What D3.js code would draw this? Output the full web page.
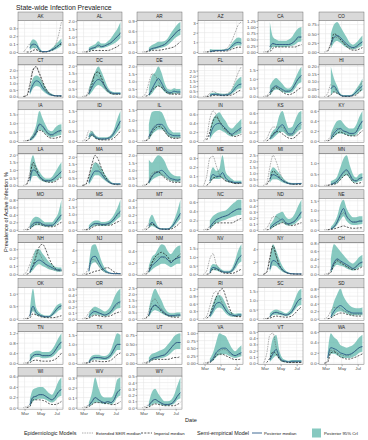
<!DOCTYPE html>
<html><head><meta charset="utf-8">
<script src="https://cdn.jsdelivr.net/npm/d3@7"></script>
<style>body{margin:0;background:#fff} svg text{font-family:"Liberation Sans",Arial,Helvetica,sans-serif}</style>
</head><body><svg id="c" width="368" height="440"></svg>
<script>
const states = ["AK","AL","AR","AZ","CA","CO","CT","DC","DE","FL","GA","HI","IA","ID","IL","IN","KS","KY","LA","MA","MD","ME","MI","MN","MO","MS","MT","NC","ND","NE","NH","NJ","NM","NV","NY","OH","OK","OR","PA","RI","SC","SD","TN","TX","UT","VA","VT","WA","WI","WV","WY"];
const dates = ["2020-02-26","2020-03-09","2020-03-21","2020-04-02","2020-04-14","2020-04-26","2020-05-08","2020-05-20","2020-06-01","2020-06-13","2020-06-25","2020-07-07","2020-07-19"];
const xTickDates = ["2020-03-01","2020-05-01","2020-07-01"];
const xTickLabels = ["Mar","May","Jul"];
const yTickLabels = [
["0.0","0.1","0.2","0.3"],["0.0","0.5","1.0","1.5","2.0"],["0.0","0.3","0.6","0.9"],["0","1","2","3"],["0.00","0.25","0.50","0.75","1.00","1.25"],["0.00","0.25","0.50","0.75"],
["0.0","0.5","1.0","1.5","2.0"],["0.0","0.5","1.0","1.5","2.0"],["0.0","0.5","1.0","1.5","2.0"],["0.0","0.5","1.0","1.5","2.0","2.5"],["0.0","0.5","1.0","1.5"],["0.00","0.05","0.10","0.15","0.20"],
["0.0","0.5","1.0","1.5"],["0.0","0.5","1.0","1.5"],["0.0","0.5","1.0","1.5"],["0.0","0.2","0.4","0.6"],["0.0","0.2","0.4","0.6"],["0.0","0.2","0.4","0.6"],
["0.0","0.5","1.0","1.5","2.0"],["0.0","0.5","1.0","1.5","2.0"],["0.0","0.5","1.0","1.5","2.0"],["0.0","0.1","0.2","0.3"],["0.0","0.5","1.0","1.5","2.0","2.5"],["0.0","0.5","1.0"],
["0.0","0.2","0.4","0.6","0.8"],["0.0","0.5","1.0","1.5","2.0"],["0.0","0.1","0.2","0.3","0.4"],["0.0","0.2","0.4","0.6"],["0.0","0.1","0.2","0.3","0.4","0.5"],["0.0","0.5","1.0","1.5"],
["0.0","0.1","0.2","0.3"],["0","2","4"],["0.0","0.2","0.4"],["0.0","0.5","1.0","1.5"],["0","2","4"],["0.0","0.2","0.4","0.6","0.8"],
["0.0","0.5","1.0"],["0.0","0.1","0.2","0.3","0.4","0.5"],["0.0","0.5","1.0","1.5","2.0","2.5"],["0.0","0.3","0.6","0.9","1.2"],["0.0","0.5","1.0","1.5"],["0.0","0.2","0.4","0.6","0.8"],
["0.0","0.4","0.8","1.2"],["0.0","0.5","1.0","1.5"],["0.00","0.25","0.50","0.75"],["0.00","0.25","0.50","0.75","1.00"],["0.0","0.1","0.2","0.3","0.4","0.5"],["0.0","0.2","0.4","0.6"],
["0.0","0.2","0.4","0.6"],["0.0","0.1","0.2","0.3"],["0.0","0.1","0.2","0.3","0.4","0.5"]
];
const median = [
[null,null,0.05,0.1,0.09,0.03,0.005,0.005,0.01,0.03,0.05,0.08,0.12],
[null,null,0.15,0.25,0.3,0.45,0.35,0.4,0.5,0.6,0.8,1.0,1.2],
[null,null,0.05,0.1,0.12,0.15,0.18,0.22,0.3,0.4,0.5,0.6,0.65],
[null,null,0.05,0.1,0.15,0.15,0.15,0.2,0.3,0.6,0.9,1.0,0.9],
[null,null,0.2,0.35,0.3,0.3,0.3,0.3,0.3,0.35,0.45,0.6,0.6],
[null,null,0.2,0.4,0.45,0.4,0.3,0.22,0.15,0.12,0.15,0.22,0.28],
[null,null,0.3,0.9,1.2,1.1,0.7,0.4,0.2,0.1,0.05,0.05,0.05],
[null,null,0.2,0.6,0.95,1.1,1.0,0.7,0.4,0.25,0.2,0.2,0.2],
[null,null,0.1,0.5,0.9,1.2,0.9,0.5,0.3,0.25,0.35,0.3,0.3],
[null,null,0.1,0.2,0.2,0.15,0.12,0.15,0.2,0.4,0.8,1.1,1.2],
[null,null,0.2,0.5,0.6,0.5,0.4,0.3,0.3,0.4,0.7,1.0,1.2],
[null,null,0.05,0.07,0.04,0.01,0.003,0.003,0.003,0.01,0.03,0.05,0.07],
[null,null,0.05,0.2,0.5,0.95,0.85,0.6,0.4,0.35,0.45,0.55,0.6],
[null,null,0.2,0.35,0.2,0.12,0.1,0.1,0.12,0.2,0.4,0.7,1.0],
[null,null,0.2,0.5,0.7,0.8,0.8,0.65,0.4,0.3,0.25,0.25,0.25],
[null,null,0.1,0.3,0.38,0.4,0.35,0.28,0.2,0.15,0.2,0.25,0.3],
[null,null,0.05,0.12,0.2,0.3,0.35,0.25,0.15,0.15,0.25,0.35,0.4],
[null,null,0.05,0.15,0.22,0.25,0.2,0.18,0.15,0.15,0.18,0.3,0.4],
[null,null,0.3,1.0,0.9,0.6,0.4,0.3,0.3,0.35,0.5,0.7,0.9],
[null,null,0.2,0.7,1.0,1.0,0.8,0.5,0.3,0.15,0.1,0.1,0.1],
[null,null,0.2,0.6,0.8,0.9,1.0,0.85,0.6,0.45,0.4,0.35,0.4],
[null,null,0.05,0.12,0.1,0.1,0.14,0.08,0.05,0.04,0.03,0.03,0.03],
[null,null,0.5,0.9,0.8,0.6,0.4,0.25,0.15,0.12,0.12,0.15,0.15],
[null,null,0.05,0.1,0.2,0.4,0.6,0.7,0.5,0.25,0.2,0.3,0.35],
[null,null,0.05,0.15,0.2,0.2,0.15,0.12,0.12,0.12,0.18,0.3,0.4],
[null,null,0.1,0.3,0.4,0.4,0.35,0.35,0.4,0.5,0.7,1.0,1.2],
[null,null,0.05,0.1,0.06,0.02,0.01,0.01,0.01,0.03,0.08,0.15,0.22],
[null,null,0.05,0.15,0.22,0.25,0.28,0.3,0.33,0.38,0.42,0.45,0.45],
[null,null,0.03,0.08,0.12,0.15,0.18,0.12,0.1,0.12,0.15,0.22,0.3],
[null,null,0.05,0.15,0.4,0.8,1.1,0.7,0.5,0.4,0.4,0.45,0.45],
[null,null,0.03,0.1,0.15,0.17,0.15,0.12,0.1,0.08,0.06,0.05,0.05],
[null,null,0.5,2.8,3.0,2.2,1.2,0.6,0.3,0.15,0.1,0.1,0.1],
[null,null,0.05,0.15,0.2,0.25,0.3,0.3,0.25,0.2,0.25,0.28,0.3],
[null,null,0.1,0.4,0.35,0.25,0.15,0.12,0.12,0.2,0.5,0.9,1.1],
[null,null,0.8,2.2,2.0,1.3,0.7,0.35,0.15,0.08,0.05,0.05,0.05],
[null,null,0.1,0.3,0.4,0.35,0.3,0.25,0.2,0.15,0.2,0.28,0.32],
[null,null,0.1,0.5,0.25,0.15,0.1,0.08,0.08,0.15,0.3,0.45,0.52],
[null,null,0.03,0.1,0.12,0.1,0.08,0.06,0.08,0.12,0.2,0.26,0.28],
[null,null,0.3,0.9,1.1,0.95,0.7,0.45,0.3,0.25,0.25,0.3,0.3],
[null,null,0.1,0.35,0.6,0.65,0.55,0.35,0.2,0.15,0.12,0.15,0.15],
[null,null,0.1,0.3,0.35,0.3,0.25,0.2,0.25,0.4,0.7,1.0,1.1],
[null,null,0.05,0.2,0.3,0.35,0.3,0.22,0.18,0.15,0.15,0.15,0.15],
[null,null,0.1,0.3,0.35,0.35,0.3,0.3,0.3,0.35,0.5,0.7,0.85],
[null,null,0.05,0.25,0.3,0.3,0.28,0.25,0.3,0.45,0.75,1.0,1.0],
[null,null,0.05,0.12,0.15,0.17,0.2,0.22,0.3,0.4,0.5,0.55,0.55],
[null,null,0.05,0.15,0.35,0.45,0.5,0.5,0.4,0.3,0.25,0.3,0.35],
[null,null,0.05,0.15,0.22,0.1,0.04,0.03,0.02,0.03,0.03,0.03,0.03],
[null,0.1,0.3,0.28,0.25,0.2,0.18,0.16,0.17,0.2,0.25,0.3,0.32],
[null,null,0.05,0.2,0.22,0.25,0.25,0.22,0.18,0.15,0.2,0.3,0.35],
[null,null,0.02,0.06,0.1,0.08,0.06,0.05,0.06,0.05,0.08,0.15,0.18],
[null,null,0.03,0.1,0.13,0.1,0.07,0.05,0.05,0.06,0.1,0.18,0.24]
];
const lower = [
[null,null,0.02,0.05,0.05,0.01,0,0,0.005,0.015,0.03,0.05,0.08],
[null,null,0.05,0.15,0.2,0.3,0.25,0.3,0.35,0.45,0.55,0.7,0.9],
[null,null,0.02,0.06,0.08,0.1,0.12,0.15,0.2,0.28,0.38,0.45,0.5],
[null,null,0.02,0.05,0.1,0.1,0.1,0.15,0.2,0.4,0.6,0.7,0.65],
[null,null,0.05,0.2,0.2,0.2,0.2,0.2,0.22,0.25,0.3,0.4,0.42],
[null,null,0.08,0.25,0.3,0.25,0.18,0.12,0.08,0.07,0.09,0.13,0.18],
[null,null,0.1,0.6,0.8,0.75,0.45,0.25,0.1,0.05,0.02,0.02,0.02],
[null,null,0.05,0.3,0.6,0.75,0.65,0.45,0.25,0.15,0.12,0.12,0.12],
[null,null,0.02,0.2,0.5,0.7,0.55,0.3,0.18,0.15,0.2,0.2,0.18],
[null,null,0.03,0.12,0.12,0.1,0.08,0.1,0.12,0.25,0.5,0.75,0.8],
[null,null,0.05,0.3,0.4,0.35,0.25,0.2,0.2,0.25,0.45,0.7,0.8],
[null,null,0.01,0.03,0.02,0.005,0,0,0,0.005,0.015,0.03,0.04],
[null,null,0.02,0.1,0.3,0.65,0.55,0.4,0.25,0.2,0.25,0.3,0.35],
[null,null,0.08,0.25,0.12,0.07,0.06,0.06,0.08,0.12,0.25,0.45,0.65],
[null,null,0.05,0.3,0.45,0.55,0.55,0.45,0.25,0.18,0.15,0.15,0.15],
[null,null,0.03,0.15,0.22,0.25,0.22,0.18,0.12,0.1,0.12,0.15,0.18],
[null,null,0.02,0.06,0.12,0.18,0.2,0.15,0.1,0.1,0.15,0.22,0.25],
[null,null,0.02,0.08,0.14,0.15,0.14,0.12,0.1,0.1,0.12,0.2,0.25],
[null,null,0.1,0.6,0.6,0.4,0.28,0.2,0.2,0.22,0.3,0.45,0.55],
[null,null,0.05,0.4,0.7,0.7,0.55,0.35,0.2,0.1,0.06,0.06,0.06],
[null,null,0.05,0.35,0.5,0.6,0.65,0.55,0.4,0.3,0.25,0.22,0.25],
[null,null,0.02,0.07,0.07,0.07,0.08,0.05,0.03,0.025,0.02,0.02,0.02],
[null,null,0.2,0.5,0.5,0.4,0.25,0.15,0.1,0.08,0.08,0.1,0.1],
[null,null,0.02,0.05,0.1,0.25,0.4,0.45,0.3,0.15,0.12,0.18,0.22],
[null,null,0.02,0.08,0.12,0.12,0.1,0.08,0.08,0.08,0.12,0.2,0.28],
[null,null,0.03,0.2,0.28,0.28,0.25,0.25,0.28,0.35,0.5,0.7,0.85],
[null,null,0.02,0.05,0.03,0.01,0.005,0.005,0.005,0.015,0.05,0.1,0.15],
[null,null,0.02,0.08,0.14,0.17,0.2,0.22,0.25,0.28,0.3,0.32,0.32],
[null,null,0.01,0.04,0.07,0.1,0.12,0.08,0.07,0.08,0.1,0.15,0.2],
[null,null,0.02,0.08,0.25,0.5,0.7,0.45,0.3,0.25,0.25,0.28,0.3],
[null,null,0.01,0.05,0.1,0.12,0.1,0.08,0.06,0.05,0.04,0.03,0.03],
[null,null,0.2,1.8,2.0,1.4,0.7,0.35,0.15,0.08,0.05,0.05,0.05],
[null,null,0.02,0.08,0.12,0.15,0.18,0.18,0.15,0.12,0.15,0.18,0.18],
[null,null,0.03,0.25,0.22,0.15,0.1,0.08,0.08,0.12,0.3,0.6,0.75],
[null,null,0.3,1.4,1.3,0.8,0.4,0.2,0.08,0.04,0.03,0.03,0.03],
[null,null,0.03,0.18,0.25,0.22,0.2,0.15,0.12,0.1,0.12,0.18,0.2],
[null,null,0.03,0.3,0.15,0.1,0.06,0.05,0.05,0.1,0.2,0.32,0.38],
[null,null,0.01,0.05,0.07,0.06,0.05,0.04,0.05,0.08,0.13,0.17,0.18],
[null,null,0.1,0.55,0.7,0.6,0.45,0.3,0.2,0.15,0.15,0.18,0.18],
[null,null,0.03,0.2,0.4,0.45,0.38,0.22,0.12,0.08,0.08,0.1,0.1],
[null,null,0.03,0.2,0.22,0.2,0.17,0.14,0.17,0.28,0.5,0.7,0.75],
[null,null,0.02,0.1,0.18,0.2,0.18,0.14,0.1,0.09,0.09,0.09,0.09],
[null,null,0.03,0.2,0.25,0.25,0.2,0.2,0.22,0.25,0.35,0.5,0.6],
[null,null,0.02,0.15,0.2,0.2,0.18,0.17,0.2,0.3,0.5,0.7,0.7],
[null,null,0.02,0.08,0.1,0.12,0.14,0.16,0.2,0.27,0.35,0.38,0.38],
[null,null,0.02,0.08,0.2,0.28,0.3,0.3,0.25,0.2,0.17,0.2,0.23],
[null,null,0.02,0.08,0.12,0.06,0.02,0.015,0.01,0.015,0.015,0.015,0.015],
[null,0.05,0.18,0.18,0.15,0.12,0.1,0.1,0.1,0.12,0.15,0.2,0.22],
[null,null,0.02,0.12,0.15,0.17,0.17,0.15,0.12,0.1,0.13,0.2,0.23],
[null,null,0.01,0.03,0.05,0.05,0.04,0.035,0.04,0.03,0.05,0.1,0.12],
[null,null,0.01,0.05,0.07,0.06,0.04,0.03,0.03,0.04,0.06,0.12,0.15]
];
const upper = [
[null,null,0.1,0.16,0.14,0.06,0.01,0.01,0.02,0.05,0.09,0.13,0.17],
[null,null,0.3,0.4,0.5,0.7,0.55,0.55,0.7,0.9,1.2,1.5,1.95],
[null,null,0.12,0.2,0.25,0.3,0.3,0.32,0.4,0.55,0.68,0.8,0.87],
[null,null,0.3,0.25,0.25,0.25,0.25,0.3,0.45,0.9,1.3,1.5,1.4],
[null,null,1.2,0.6,0.5,0.45,0.45,0.45,0.5,0.6,0.8,0.95,1.0],
[null,null,0.5,0.75,0.82,0.7,0.55,0.4,0.25,0.2,0.25,0.35,0.45],
[null,null,0.6,1.4,1.6,1.5,1.1,0.7,0.35,0.2,0.1,0.1,0.1],
[null,null,0.5,1.1,1.6,1.95,1.6,1.1,0.6,0.35,0.28,0.28,0.28],
[null,null,0.5,1.4,1.6,2.0,1.6,0.9,0.5,0.45,0.55,0.5,0.5],
[null,null,0.25,0.35,0.35,0.3,0.25,0.25,0.35,0.7,1.3,1.7,1.9],
[null,null,0.6,0.9,1.05,0.9,0.7,0.5,0.45,0.6,1.0,1.4,1.7],
[null,null,0.2,0.12,0.07,0.02,0.01,0.01,0.01,0.02,0.05,0.08,0.12],
[null,null,0.15,0.4,0.9,1.7,1.3,0.9,0.6,0.55,0.75,0.9,0.95],
[null,null,0.35,0.5,0.3,0.2,0.18,0.18,0.2,0.3,0.6,1.1,1.5],
[null,null,0.8,1.4,1.45,1.45,1.4,1.1,0.7,0.5,0.4,0.4,0.4],
[null,null,0.25,0.5,0.6,0.65,0.55,0.45,0.32,0.28,0.35,0.42,0.5],
[null,null,0.1,0.22,0.3,0.55,0.65,0.45,0.28,0.3,0.45,0.6,0.65],
[null,null,0.15,0.3,0.4,0.42,0.35,0.28,0.25,0.25,0.32,0.48,0.6],
[null,null,1.2,1.95,1.3,0.9,0.6,0.45,0.45,0.55,0.85,1.2,1.5],
[null,null,0.5,1.2,1.6,1.5,1.2,0.8,0.5,0.25,0.15,0.15,0.15],
[null,null,1.7,1.5,1.8,2.0,1.9,1.6,1.1,0.8,0.65,0.6,0.6],
[null,null,0.1,0.2,0.16,0.18,0.33,0.15,0.1,0.07,0.05,0.05,0.05],
[null,null,1.0,1.5,1.3,1.0,0.65,0.4,0.25,0.2,0.2,0.2,0.22],
[null,null,0.2,0.25,0.4,0.8,1.2,1.35,0.9,0.5,0.35,0.5,0.55],
[null,null,0.15,0.3,0.35,0.32,0.25,0.2,0.2,0.2,0.3,0.45,0.8],
[null,null,0.3,0.5,0.6,0.6,0.5,0.5,0.55,0.7,1.0,1.4,1.95],
[null,null,0.12,0.2,0.12,0.04,0.02,0.02,0.02,0.05,0.13,0.25,0.4],
[null,null,0.2,0.3,0.35,0.38,0.4,0.42,0.48,0.55,0.6,0.65,0.65],
[null,null,0.08,0.15,0.25,0.28,0.3,0.22,0.18,0.2,0.28,0.4,0.5],
[null,null,0.15,0.35,0.7,1.3,1.55,1.1,0.8,0.65,0.65,0.7,0.7],
[null,null,0.08,0.2,0.3,0.3,0.25,0.2,0.15,0.12,0.09,0.08,0.08],
[null,null,1.5,4.8,5.0,3.8,2.2,1.1,0.5,0.25,0.15,0.15,0.15],
[null,null,0.15,0.3,0.35,0.45,0.52,0.5,0.4,0.35,0.42,0.48,0.5],
[null,null,0.3,0.6,0.55,0.4,0.25,0.2,0.2,0.35,0.8,1.4,1.75],
[null,null,2.0,4.8,3.8,2.4,1.3,0.6,0.3,0.15,0.1,0.1,0.1],
[null,null,0.4,0.78,0.7,0.6,0.5,0.4,0.32,0.28,0.35,0.45,0.5],
[null,null,0.3,1.2,0.45,0.25,0.17,0.13,0.13,0.25,0.45,0.58,0.62],
[null,null,0.08,0.17,0.2,0.18,0.15,0.12,0.15,0.22,0.35,0.45,0.5],
[null,null,0.8,1.9,2.45,2.0,1.5,0.9,0.55,0.45,0.45,0.5,0.5],
[null,null,0.25,0.6,0.9,0.95,0.85,0.6,0.35,0.25,0.2,0.22,0.22],
[null,null,0.3,0.45,0.5,0.45,0.38,0.3,0.4,0.65,1.1,1.5,1.65],
[null,null,0.15,0.45,0.65,0.8,0.6,0.45,0.35,0.3,0.28,0.28,0.3],
[null,null,0.35,0.45,0.5,0.5,0.45,0.45,0.45,0.55,0.75,1.0,1.2],
[null,null,0.15,0.4,0.45,0.45,0.4,0.38,0.45,0.7,1.2,1.6,1.5],
[null,null,0.15,0.25,0.28,0.32,0.35,0.4,0.5,0.6,0.72,0.78,0.8],
[null,null,0.15,0.35,0.7,1.0,0.95,0.9,0.7,0.5,0.4,0.5,0.6],
[null,null,0.15,0.4,0.45,0.2,0.08,0.05,0.04,0.05,0.05,0.05,0.05],
[null,0.2,0.58,0.5,0.45,0.35,0.32,0.3,0.32,0.35,0.42,0.5,0.55],
[null,null,0.15,0.35,0.38,0.4,0.4,0.35,0.28,0.25,0.35,0.5,0.58],
[null,null,0.05,0.15,0.3,0.2,0.12,0.1,0.1,0.1,0.15,0.28,0.3],
[null,null,0.08,0.25,0.3,0.22,0.15,0.1,0.1,0.12,0.2,0.35,0.48]
];
const seir = [
[0,0.05,0.1,0.08,0.03,0.01,0.0,0.0,0.01,0.03,0.08,0.2,0.38],
[0,0.02,0.1,0.2,0.3,0.35,0.35,0.4,0.5,0.6,0.8,1.0,1.3],
[0,0.01,0.05,0.1,0.12,0.14,0.18,0.22,0.3,0.4,0.5,0.6,0.65],
[0,0.02,0.1,0.15,0.15,0.15,0.2,0.3,0.6,1.2,2.0,2.8,3.1],
[0,0.02,0.1,0.3,0.3,0.3,0.3,0.3,0.3,0.35,0.45,0.55,0.6],
[0,0.05,0.25,0.4,0.4,0.33,0.25,0.18,0.12,0.1,0.12,0.2,0.28],
[0,0.1,1.0,2.1,2.2,1.7,1.0,0.5,0.25,0.1,0.05,0.03,0.03],
[0,0.05,0.4,1.0,1.4,1.3,1.0,0.6,0.3,0.2,0.15,0.15,0.15],
[0,0.2,0.9,1.5,1.4,1.0,0.7,0.4,0.25,0.2,0.2,0.2,0.2],
[0,0.05,0.3,0.5,0.35,0.2,0.15,0.2,0.35,0.7,1.5,2.3,2.9],
[0,0.05,0.25,0.5,0.55,0.45,0.35,0.28,0.3,0.4,0.7,1.0,1.1],
[0,0.02,0.08,0.06,0.03,0.01,0,0,0,0.01,0.03,0.06,0.1],
[0,0.02,0.1,0.3,0.6,0.9,0.8,0.55,0.35,0.3,0.4,0.5,0.55],
[0,0.1,0.5,0.45,0.2,0.1,0.08,0.1,0.15,0.25,0.45,0.7,0.9],
[0,0.02,0.2,0.55,0.75,0.8,0.7,0.5,0.3,0.2,0.15,0.15,0.15],
[0,0.1,0.5,0.68,0.6,0.45,0.3,0.22,0.18,0.15,0.18,0.22,0.25],
[0,0.05,0.2,0.3,0.3,0.3,0.3,0.2,0.12,0.12,0.2,0.3,0.35],
[0,0.02,0.1,0.2,0.25,0.22,0.2,0.17,0.15,0.14,0.18,0.3,0.38],
[0,0.1,0.8,1.3,0.9,0.55,0.35,0.28,0.28,0.35,0.5,0.7,0.85],
[0,0.1,0.7,1.4,1.6,1.3,0.9,0.5,0.25,0.12,0.08,0.05,0.05],
[0,0.05,0.3,0.8,0.9,0.9,0.8,0.6,0.45,0.35,0.3,0.3,0.3],
[0,0.1,0.3,0.32,0.22,0.12,0.08,0.05,0.04,0.03,0.02,0.02,0.02],
[0,0.2,1.5,2.5,2.0,1.2,0.6,0.3,0.15,0.1,0.1,0.12,0.15],
[0,0.01,0.05,0.1,0.2,0.35,0.55,0.65,0.45,0.25,0.2,0.3,0.35],
[0,0.02,0.1,0.18,0.2,0.18,0.15,0.12,0.12,0.12,0.18,0.3,0.4],
[0,0.02,0.1,0.3,0.4,0.4,0.35,0.35,0.4,0.5,0.7,0.95,1.1],
[0,0.02,0.08,0.08,0.05,0.02,0.01,0.01,0.01,0.03,0.08,0.15,0.2],
[0,0.02,0.08,0.15,0.2,0.25,0.28,0.3,0.33,0.38,0.42,0.45,0.45],
[0,0.03,0.12,0.22,0.22,0.18,0.15,0.12,0.1,0.12,0.15,0.22,0.28],
[0,0.01,0.05,0.15,0.4,0.7,0.9,0.7,0.5,0.4,0.4,0.45,0.45],
[0,0.03,0.12,0.22,0.28,0.25,0.18,0.12,0.08,0.06,0.05,0.04,0.04],
[0,0.2,1.2,2.5,2.3,1.5,0.8,0.4,0.2,0.1,0.05,0.05,0.05],
[0,0.02,0.1,0.2,0.25,0.3,0.3,0.28,0.25,0.2,0.25,0.28,0.3],
[0,0.2,0.9,1.2,0.6,0.3,0.15,0.1,0.12,0.2,0.5,0.9,1.1],
[0,0.4,2.8,4.3,2.8,1.4,0.6,0.3,0.12,0.05,0.03,0.02,0.02],
[0,0.02,0.1,0.3,0.38,0.33,0.28,0.22,0.18,0.15,0.2,0.28,0.3],
[0,0.02,0.15,0.4,0.25,0.15,0.1,0.08,0.08,0.15,0.3,0.45,0.5],
[0,0.02,0.1,0.15,0.12,0.1,0.08,0.06,0.08,0.12,0.18,0.24,0.26],
[0,0.05,0.6,1.4,1.6,1.2,0.8,0.5,0.3,0.2,0.2,0.25,0.28],
[0,0.1,0.5,0.95,1.1,0.9,0.6,0.35,0.2,0.12,0.1,0.1,0.1],
[0,0.02,0.1,0.3,0.35,0.3,0.25,0.2,0.25,0.4,0.7,1.0,1.1],
[0,0.05,0.2,0.3,0.3,0.28,0.22,0.18,0.15,0.12,0.12,0.12,0.12],
[0,0.02,0.1,0.3,0.35,0.35,0.3,0.3,0.3,0.35,0.5,0.7,0.85],
[0,0.02,0.06,0.25,0.3,0.3,0.28,0.25,0.3,0.45,0.75,1.0,1.0],
[0,0.02,0.06,0.12,0.15,0.17,0.2,0.22,0.3,0.4,0.5,0.55,0.55],
[0,0.02,0.06,0.15,0.3,0.4,0.45,0.45,0.35,0.28,0.25,0.28,0.3],
[0,0.15,0.45,0.48,0.25,0.08,0.03,0.02,0.01,0.01,0.01,0.01,0.01],
[0,0.05,0.25,0.25,0.2,0.17,0.15,0.14,0.15,0.2,0.25,0.3,0.32],
[0,0.02,0.05,0.2,0.22,0.25,0.25,0.22,0.18,0.15,0.2,0.3,0.35],
[0,0.01,0.03,0.06,0.1,0.08,0.06,0.05,0.06,0.05,0.08,0.15,0.18],
[0,0.02,0.05,0.1,0.13,0.1,0.07,0.05,0.05,0.06,0.1,0.18,0.24]
];
const imperial = [
[null,0,0.0,0.02,0.03,0.01,0.0,0.0,0.01,0.02,0.05,0.08,0.1],
[null,0,0.02,0.1,0.1,0.1,0.1,0.1,0.1,0.15,0.25,0.35,0.5],
[null,0,0.02,0.05,0.05,0.05,0.06,0.08,0.1,0.12,0.15,0.22,0.3],
[null,0,0.02,0.05,0.1,0.1,0.1,0.1,0.15,0.3,0.4,0.5,0.5],
[null,0,0.02,0.15,0.2,0.2,0.2,0.2,0.2,0.2,0.2,0.25,0.3],
[null,0.02,0.2,0.5,0.45,0.35,0.25,0.15,0.08,0.05,0.05,0.08,0.12],
[0,0.05,0.8,2.0,2.3,1.8,1.2,0.6,0.3,0.1,0.05,0.02,0.02],
[null,0.02,0.2,0.8,1.5,1.6,1.2,0.7,0.35,0.2,0.15,0.15,0.15],
[null,0.02,0.1,0.4,0.6,0.7,0.6,0.4,0.2,0.15,0.15,0.15,0.15],
[null,0,0.02,0.1,0.12,0.1,0.08,0.08,0.1,0.15,0.3,0.5,0.65],
[null,0.01,0.1,0.4,0.5,0.4,0.25,0.15,0.1,0.15,0.25,0.4,0.5],
[null,0,0.01,0.03,0.02,0.01,0,0,0,0.005,0.01,0.03,0.05],
[null,0.01,0.05,0.2,0.45,0.6,0.55,0.35,0.2,0.15,0.15,0.2,0.25],
[null,0,0.1,0.3,0.15,0.07,0.05,0.05,0.05,0.07,0.15,0.3,0.5],
[null,0.01,0.1,0.4,0.6,0.7,0.65,0.45,0.25,0.15,0.12,0.12,0.15],
[null,0.02,0.2,0.45,0.55,0.45,0.35,0.25,0.18,0.12,0.1,0.12,0.15],
[null,0,0.05,0.15,0.2,0.2,0.15,0.1,0.06,0.05,0.08,0.15,0.2],
[null,0,0.03,0.1,0.15,0.18,0.15,0.12,0.1,0.1,0.1,0.15,0.2],
[null,0.05,0.6,1.5,1.1,0.6,0.35,0.25,0.2,0.2,0.25,0.4,0.5],
[0,0.05,0.6,1.5,2.1,1.8,1.2,0.7,0.35,0.15,0.08,0.05,0.05],
[null,0.02,0.2,0.6,0.85,0.9,0.7,0.5,0.35,0.25,0.2,0.2,0.2],
[null,0,0.03,0.08,0.09,0.1,0.08,0.05,0.04,0.03,0.02,0.02,0.02],
[null,0.05,0.5,1.2,1.0,0.7,0.4,0.25,0.15,0.1,0.08,0.08,0.1],
[null,0,0.02,0.05,0.1,0.25,0.4,0.5,0.35,0.15,0.08,0.1,0.15],
[null,0,0.02,0.1,0.15,0.15,0.12,0.1,0.08,0.08,0.1,0.15,0.2],
[null,0,0.02,0.15,0.25,0.3,0.3,0.3,0.3,0.3,0.4,0.5,0.6],
[null,0,0.03,0.08,0.05,0.02,0.01,0.005,0.005,0.01,0.03,0.06,0.1],
[null,0,0.02,0.1,0.15,0.15,0.15,0.15,0.15,0.15,0.18,0.22,0.25],
[null,0,0.01,0.05,0.08,0.1,0.12,0.1,0.08,0.07,0.08,0.1,0.12],
[null,0,0.02,0.05,0.1,0.15,0.2,0.15,0.1,0.08,0.08,0.1,0.1],
[null,0,0.02,0.1,0.22,0.33,0.36,0.3,0.2,0.12,0.07,0.05,0.05],
[null,0,0.1,0.3,0.5,0.6,0.8,1.0,1.1,0.8,0.4,0.15,0.05],
[null,0,0.05,0.2,0.3,0.35,0.38,0.35,0.3,0.22,0.25,0.3,0.35],
[null,0,0.05,0.3,0.3,0.2,0.1,0.05,0.05,0.05,0.1,0.2,0.3],
[0,0.3,2.5,4.6,3.0,1.5,0.7,0.3,0.12,0.05,0.03,0.02,0.02],
[null,0,0.05,0.25,0.35,0.3,0.25,0.2,0.15,0.12,0.12,0.15,0.2],
[null,0,0.03,0.2,0.15,0.1,0.06,0.05,0.04,0.04,0.05,0.08,0.12],
[null,0,0.01,0.04,0.06,0.05,0.04,0.03,0.04,0.05,0.08,0.1,0.12],
[null,0.02,0.3,0.9,1.1,0.9,0.6,0.4,0.25,0.15,0.12,0.12,0.15],
[null,0.02,0.15,0.5,0.85,1.1,1.2,0.9,0.5,0.2,0.1,0.08,0.08],
[null,0,0.03,0.1,0.15,0.12,0.1,0.08,0.1,0.15,0.3,0.5,0.65],
[null,0,0.02,0.08,0.12,0.15,0.15,0.12,0.1,0.08,0.07,0.07,0.07],
[null,0,0.02,0.1,0.12,0.1,0.08,0.08,0.08,0.1,0.15,0.25,0.4],
[null,0,0.02,0.1,0.12,0.1,0.08,0.08,0.1,0.15,0.3,0.45,0.55],
[null,0,0.02,0.08,0.1,0.1,0.1,0.1,0.1,0.12,0.15,0.15,0.18],
[null,0,0.02,0.1,0.25,0.3,0.3,0.25,0.2,0.15,0.12,0.12,0.15],
[null,0.01,0.08,0.18,0.15,0.07,0.03,0.02,0.01,0.01,0.01,0.01,0.01],
[0,0.02,0.2,0.22,0.18,0.12,0.1,0.08,0.08,0.1,0.12,0.15,0.18],
[null,0,0.02,0.15,0.15,0.15,0.14,0.12,0.08,0.06,0.06,0.08,0.12],
[null,0,0.01,0.03,0.05,0.05,0.05,0.04,0.04,0.03,0.03,0.04,0.06],
[null,0,0.01,0.04,0.06,0.05,0.04,0.03,0.03,0.03,0.03,0.05,0.08]
];

const svg = d3.select("#c");
const colLeft = [18, 77, 137, 198, 258, 319];
const pw = 45, stripH = 8.5, ph = 33, rowTop0 = 12, rowPitch = 44.45;
const parse = d3.timeParse("%Y-%m-%d");
const X = dates.map(parse);
const x = d3.scaleTime().domain([parse("2020-02-05"), parse("2020-07-25")]).range([0, pw]);
const xMajor = xTickDates.map(parse);
const xMinor = ["2020-04-01","2020-06-01"].map(parse);
const ribbonFill = "#6cbdb2", ribbonOpacity = 0.82, medColor = "#2b5a88";

svg.append("text").attr("x", 16).attr("y", 10).attr("font-size", 6.8).attr("fill", "#1a1a1a").text("State-wide Infection Prevalence");

states.forEach((s, k) => {
  const col = k % 6, row = Math.floor(k / 6);
  const g = svg.append("g").attr("transform", `translate(${colLeft[col]},${rowTop0 + row * rowPitch})`);
  g.append("rect").attr("width", pw).attr("height", stripH).attr("fill", "#d9d9d9").attr("stroke", "#555").attr("stroke-width", 0.4);
  g.append("text").attr("x", pw / 2).attr("y", stripH / 2 + 1.6).attr("text-anchor", "middle").attr("font-size", 4.6).attr("fill", "#1a1a1a").text(s);
  const p = g.append("g").attr("transform", `translate(0,${stripH})`);
  const mx = d3.max([upper[k], seir[k], imperial[k]].flat().filter(v => v != null));
  const y = d3.scaleLinear().domain([-0.05 * mx, 1.05 * mx]).range([ph, 0]);
  const labs = yTickLabels[k];
  const vals = labs.map(Number).filter(v => v <= y.domain()[1]);
  const step = vals.length > 1 ? vals[1] - vals[0] : mx;
  const minorY = [];
  for (let v = step / 2; v < y.domain()[1]; v += step) minorY.push(v);
  p.append("rect").attr("width", pw).attr("height", ph).attr("fill", "#fff");
  p.selectAll(".gmy").data(minorY).join("line").attr("x1", 0).attr("x2", pw).attr("y1", d => y(d)).attr("y2", d => y(d)).attr("stroke", "#f2f2f2").attr("stroke-width", 0.4);
  p.selectAll(".gmx").data(xMinor).join("line").attr("y1", 0).attr("y2", ph).attr("x1", d => x(d)).attr("x2", d => x(d)).attr("stroke", "#f2f2f2").attr("stroke-width", 0.4);
  p.selectAll(".gy").data(vals).join("line").attr("x1", 0).attr("x2", pw).attr("y1", d => y(d)).attr("y2", d => y(d)).attr("stroke", "#e6e6e6").attr("stroke-width", 0.6);
  p.selectAll(".gx").data(xMajor).join("line").attr("y1", 0).attr("y2", ph).attr("x1", d => x(d)).attr("x2", d => x(d)).attr("stroke", "#e6e6e6").attr("stroke-width", 0.6);

  const idx = d3.range(dates.length);
  const area = d3.area().defined(i => lower[k][i] != null).x(i => x(X[i])).y0(i => y(lower[k][i])).y1(i => y(upper[k][i])).curve(d3.curveMonotoneX);
  p.append("path").attr("d", area(idx)).attr("fill", ribbonFill).attr("fill-opacity", ribbonOpacity);
  const line = arr => d3.line().defined(i => arr[i] != null).x(i => x(X[i])).y(i => y(arr[i])).curve(d3.curveMonotoneX)(idx);
  p.append("path").attr("d", line(seir[k])).attr("fill", "none").attr("stroke", "#555").attr("stroke-width", 0.7).attr("stroke-dasharray", "0.7,1");
  p.append("path").attr("d", line(imperial[k])).attr("fill", "none").attr("stroke", "#111").attr("stroke-width", 0.7).attr("stroke-dasharray", "2,1.3");
  p.append("path").attr("d", line(median[k])).attr("fill", "none").attr("stroke", medColor).attr("stroke-width", 0.9);
  p.append("rect").attr("width", pw).attr("height", ph).attr("fill", "none").attr("stroke", "#555").attr("stroke-width", 0.4);

  const ya = p.append("g").call(d3.axisLeft(y).tickValues(vals).tickFormat((d, i) => labs[i]).tickSize(1.6).tickPadding(0.8));
  ya.select(".domain").remove();
  ya.selectAll("line").attr("stroke", "#333").attr("stroke-width", 0.4);
  ya.selectAll("text").attr("font-size", 4.4).attr("fill", "#4d4d4d").attr("font-family", "Liberation Sans, Arial, sans-serif");

  if (k >= states.length - 6) {
    const xa = p.append("g").attr("transform", `translate(0,${ph})`).call(d3.axisBottom(x).tickValues(xMajor).tickFormat((d, i) => xTickLabels[i]).tickSize(1.6).tickPadding(0.8));
    xa.select(".domain").remove();
    xa.selectAll("line").attr("stroke", "#333").attr("stroke-width", 0.4);
    xa.selectAll("text").attr("font-size", 4.4).attr("fill", "#4d4d4d").attr("font-family", "Liberation Sans, Arial, sans-serif");
  }
});

svg.append("text").attr("transform", "translate(8,212) rotate(-90)").attr("text-anchor", "middle").attr("font-size", 5.6).attr("fill", "#1a1a1a").text("Prevalence of Active Infection %");
svg.append("text").attr("x", 191).attr("y", 422).attr("text-anchor", "middle").attr("font-size", 5.6).attr("fill", "#1a1a1a").text("Date");

const lg = svg.append("g");
const ly = 433;
lg.append("text").attr("x", 24).attr("y", ly + 2).attr("font-size", 5.4).attr("fill", "#1a1a1a").text("Epidemiologic Models");
lg.append("line").attr("x1", 82).attr("x2", 93).attr("y1", ly).attr("y2", ly).attr("stroke", "#555").attr("stroke-width", 0.7).attr("stroke-dasharray", "0.7,1");
lg.append("text").attr("x", 96).attr("y", ly + 1.6).attr("font-size", 4.3).attr("fill", "#1a1a1a").text("Extended SEIR median");
lg.append("line").attr("x1", 141).attr("x2", 152).attr("y1", ly).attr("y2", ly).attr("stroke", "#111").attr("stroke-width", 0.7).attr("stroke-dasharray", "2,1.3");
lg.append("text").attr("x", 154).attr("y", ly + 1.6).attr("font-size", 4.3).attr("fill", "#1a1a1a").text("Imperial median");
lg.append("text").attr("x", 197).attr("y", ly + 2).attr("font-size", 5.4).attr("fill", "#1a1a1a").text("Semi-empirical Model");
lg.append("line").attr("x1", 252).attr("x2", 262).attr("y1", ly).attr("y2", ly).attr("stroke", medColor).attr("stroke-width", 0.9);
lg.append("text").attr("x", 264).attr("y", ly + 1.6).attr("font-size", 4.3).attr("fill", "#1a1a1a").text("Posterior median");
lg.append("rect").attr("x", 312).attr("y", ly - 4.5).attr("width", 9).attr("height", 9).attr("fill", ribbonFill).attr("fill-opacity", ribbonOpacity);
lg.append("text").attr("x", 324).attr("y", ly + 1.6).attr("font-size", 4.3).attr("fill", "#1a1a1a").text("Posterior 95% CrI");
</script></body></html>
